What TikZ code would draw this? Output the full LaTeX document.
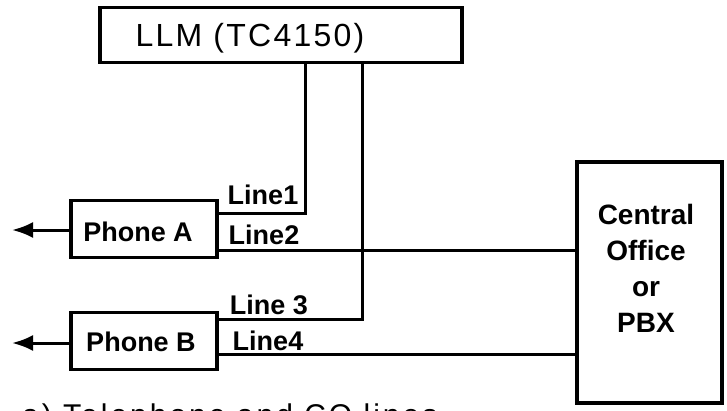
\documentclass[tikz,border=0pt]{standalone}
\usepackage{fontspec}
\setmainfont{Liberation Sans}
\usetikzlibrary{arrows.meta}
\begin{document}
\begin{tikzpicture}[x=1pt,y=-1pt,
  box/.style={draw,line width=3.2pt,inner sep=0pt},
  wire/.style={line width=3pt},
  lbl/.style={font=\fontsize{27}{27}\selectfont\bfseries, inner sep=0pt},
  arr/.style={wire,-{Latex[length=21pt,width=16pt]}},
]
\useasboundingbox (0,0) rectangle (727,410);
% boxes
\node[box, minimum width=362pt, minimum height=55pt] (llm) at (281,35) {};
\node[box, minimum width=146pt, minimum height=57pt] (phA) at (144,229) {};
\node[box, minimum width=146pt, minimum height=57pt] (phB) at (144,341) {};
\node[box, minimum width=145pt, minimum height=241pt] (co) at (649.5,282.5) {};
% box texts
\node[inner sep=0pt, font=\fontsize{32}{32}\selectfont\addfontfeature{LetterSpace=7}] (llmt) at (250,38) {LLM (TC4150)};
\node[lbl] (phAt) at (138,232) {Phone A};
\node[lbl] (phBt) at (141,342) {Phone B};
\node[inner sep=0pt, align=center, font=\fontsize{28}{36}\selectfont\bfseries] (cot) at (646,268) {Central\\Office\\or\\PBX};
% wires
\draw[wire] (llm.south -| 305,0) |- (phA.east |- 0,213);
\draw[wire] (phA.east |- 0,250) -- (co.west |- 0,250);
\draw[wire] (llm.south -| 362,0) |- (phB.east |- 0,319);
\draw[wire] (phB.east |- 0,354) -- (co.west |- 0,354);
% arrows
\coordinate (tipA) at (12,230);
\coordinate (tipB) at (12,343);
\draw[arr] (phA.west |- tipA) -- (tipA);
\draw[arr] (phB.west |- tipB) -- (tipB);
% line labels
\node[lbl] (l1) at (263,195) {Line1};
\node[lbl] (l2) at (264,235) {Line2};
\node[lbl] (l3) at (269,305) {Line 3};
\node[lbl] (l4) at (268,341) {Line4};
% caption (cut off at the bottom edge, as in the reference)
\begin{scope}
\clip (0,0) rectangle (727,410);
\node[inner sep=0pt, anchor=base west, font=\fontsize{30}{30}\selectfont\addfontfeature{LetterSpace=10}] (cap) at (22,425) {a) Telephone and CO lines};
\end{scope}
\end{tikzpicture}
\end{document}
